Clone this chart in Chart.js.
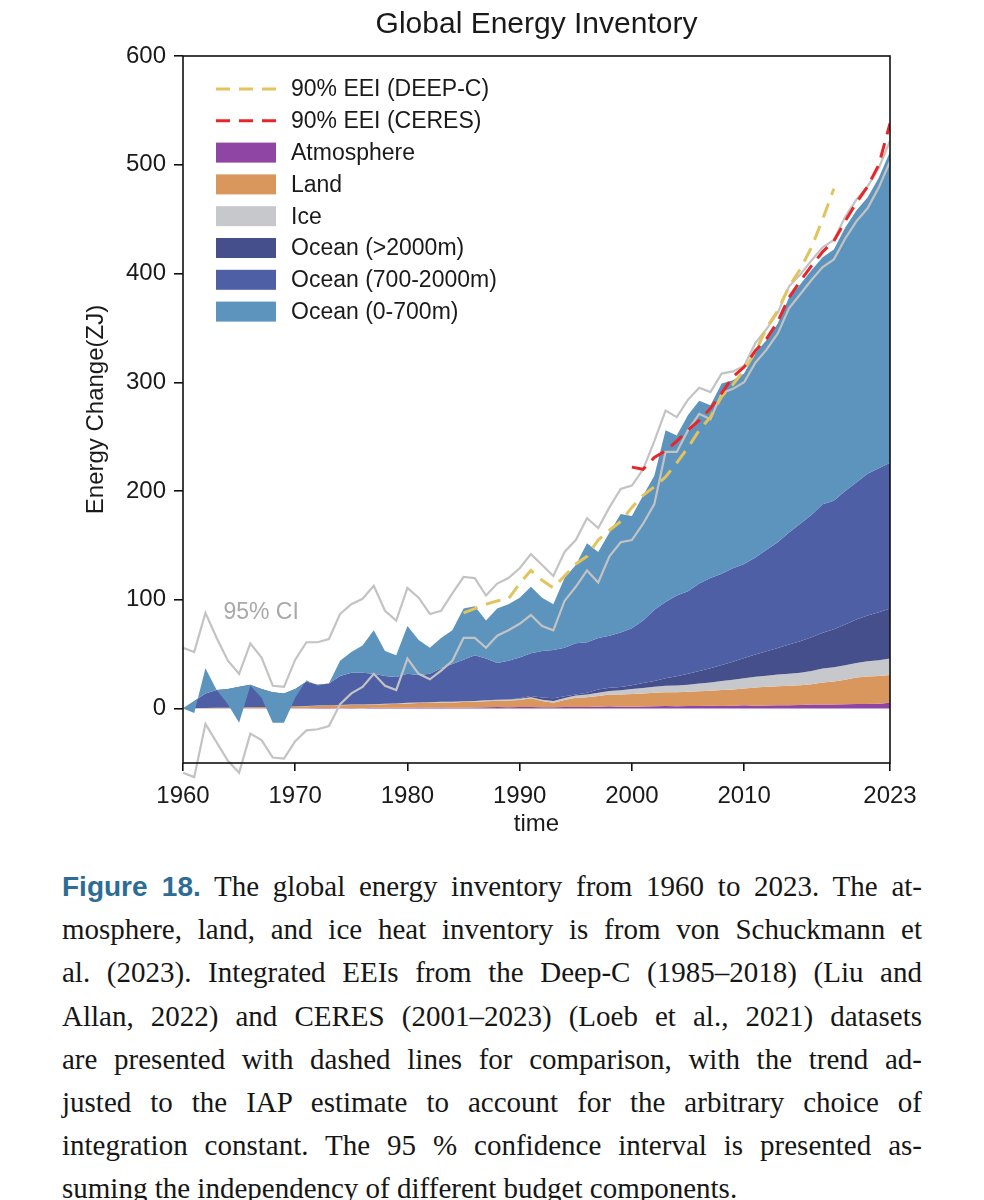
<!DOCTYPE html>
<html>
<head>
<meta charset="utf-8">
<script src="https://cdn.jsdelivr.net/npm/chart.js@4.4.0/dist/chart.umd.min.js"></script>
<style>
  body { margin: 0; background: #fff; }
  #wrap { position: relative; width: 984px; height: 1200px; overflow: hidden; }
  #caption { position: absolute; left: 62px; top: 865px; width: 860px;
    font-family: 'Liberation Serif', 'Times New Roman', serif; font-size: 29px;
    line-height: 43.2px; color: #161616; }
  #caption .ln { white-space: nowrap; text-align: justify; text-align-last: justify; }
  #caption .ln.last { text-align-last: left; }
  #caption b { font-family: 'Liberation Sans', Arial, sans-serif; color: #2c6d96; font-size: 28px; }
</style>
</head>
<body>
<div id="wrap">
  <canvas id="energy" width="984" height="850"></canvas>
  <div id="caption">
    <div class="ln"><b>Figure 18.</b> The global energy inventory from 1960 to 2023. The at-</div>
    <div class="ln">mosphere, land, and ice heat inventory is from von Schuckmann et</div>
    <div class="ln">al. (2023). Integrated EEIs from the Deep-C (1985–2018) (Liu and</div>
    <div class="ln">Allan, 2022) and CERES (2001–2023) (Loeb et al., 2021) datasets</div>
    <div class="ln">are presented with dashed lines for comparison, with the trend ad-</div>
    <div class="ln">justed to the IAP estimate to account for the arbitrary choice of</div>
    <div class="ln">integration constant. The 95 % confidence interval is presented as-</div>
    <div class="ln last">suming the independency of different budget components.</div>
  </div>
</div>
<script>
// years on the x axis
var years = [1960,1961,1962,1963,1964,1965,1966,1967,1968,1969,
  1970,1971,1972,1973,1974,1975,1976,1977,1978,1979,
  1980,1981,1982,1983,1984,1985,1986,1987,1988,1989,
  1990,1991,1992,1993,1994,1995,1996,1997,1998,1999,
  2000,2001,2002,2003,2004,2005,2006,2007,2008,2009,
  2010,2011,2012,2013,2014,2015,2016,2017,2018,2019,
  2020,2021,2022,2023];
var xTicks = [1960, 1970, 1980, 1990, 2000, 2010, 2023];
var yTicks = [0, 100, 200, 300, 400, 500, 600];

// components of the inventory (ZJ), bottom to top
var atmosphere = [0,0.1,0.2,0.2,0.1,0.2,0.3,0.3,0.3,0.4,
  0.4,0.3,0.5,0.6,0.4,0.5,0.4,0.7,0.7,0.8,
  0.9,1.0,0.9,1.1,0.9,0.9,1.0,1.2,1.4,1.2,
  1.4,1.5,1.2,1.2,1.4,1.6,1.5,1.8,2.2,1.8,
  1.8,2.0,2.2,2.3,2.2,2.5,2.5,2.6,2.4,2.7,
  3.0,2.7,2.8,3.0,3.1,3.4,3.8,3.7,3.7,4.1,
  4.3,4.2,4.5,5.5];
var land = [0,0.2,0.4,0.6,0.7,0.8,1.0,1.2,1.3,1.5,
  1.7,1.9,2.1,2.4,2.7,2.9,3.0,3.1,3.4,3.6,
  3.9,4.2,4.4,4.5,4.8,5.1,5.3,5.6,5.9,6.2,
  6.6,8.0,5.8,4.3,6.6,8.4,9.0,9.7,10.8,11.2,
  11.7,12.0,12.3,12.7,12.8,13.0,13.5,13.9,14.6,14.8,
  15.5,16.8,17.2,17.5,17.9,18.1,18.7,20.3,21.3,22.4,
  24.2,25.3,25.5,25.5];
var ice = [0,0,0,0,0,0,0,0,0,0,
  0.1,0.1,0.2,0.2,0.2,0.3,0.3,0.3,0.4,0.4,
  0.5,0.5,0.6,0.6,0.7,0.7,0.8,0.8,0.9,0.9,
  1.0,1.0,1.2,1.5,1.8,2.0,2.5,3.0,3.2,3.8,
  4.5,5.0,5.5,6.0,6.3,6.5,7.0,7.5,8.5,9.0,
  9.5,9.8,10.2,10.8,11.0,11.5,12.0,12.8,13.0,13.3,
  13.5,14.0,14.5,15.0];
var oceanDeep = [0,0,0,0,0,0,0,0,0,0,
  0,0,0,0,0,0,0,0,0,0,
  0,0,0,0,0,0,0,0,0,0,
  0.5,1,2,2.5,1.5,1,1.5,3,3,3,
  3.5,4.5,5.5,7,8.5,10,11.5,13,14.5,16.5,
  18.5,20.5,22.5,24.5,27,29,31,33,35,37.5,
  40,42,44,46];
var oceanMid = [0,6.7,13.4,16.2,17.2,19,20.7,16.5,13.4,12.1,
  15.8,22.7,19.2,19.8,26.7,29.3,29.3,27.9,25.5,24.2,
  26.7,25.3,26.1,30.8,34.6,38.3,41.9,38.4,33.8,35.7,
  37.5,39.5,42.8,44.5,44.7,47,46.5,47.5,47.8,50.2,
  52.5,57.5,65.5,70,74.2,76,80.5,83,84,86,
  86.5,89.2,93.3,97.2,103,108,112.5,118.2,118,122.7,
  126,130.5,132.5,134];
var oceanUpper = [0,-11,23,0,-14,-33,-1,-8,-28,-27,
  -8,1,-1,0,14,19,25,40,23,20,
  44,32,24,28,31,47,45,35,50,52,
  55,61,49,42,64,72,91,79,95,109,
  103,115,123,158,147,162,168,159,175,173,
  175,188,193,201,216,220,225,227,231,242,
  250,254,267,286];

// 95% confidence interval of the total
var ciUpper = [56,52,88,65,44,32,60,47,21,20,
  45,61,61,64,87,96,101,113,90,81,
  111,102,87,90,106,121,120,104,115,120,
  129,142,132,122,144,155,175,166,185,202,
  205,220,246,274,268,284,295,291,308,310,
  315,336,349,364,388,399,412,424,431,452,
  468,480,497,522];
var ciLower = [-59,-63,-14,-31,-48,-59,-23,-29,-45,-46,
  -30,-20,-19,-16,4,14,20,32,21,17,
  46,32,27,35,44,65,65,56,67,72,
  78,86,76,72,99,112,127,116,140,153,
  155,170,188,236,236,256,271,266,290,294,
  300,318,330,345,368,381,394,406,413,432,
  448,460,479,503];

// integrated EEI (dashed), null where no data
var deepC = [null,null,null,null,null,null,null,null,null,null,
  null,null,null,null,null,null,null,null,null,null,
  null,null,null,null,null,88,92,96,99,101,
  115,127,118,111,122,133,140,155,164,172,
  185,196,204,213,226,240,256,268,287,298,
  311,328,350,366,388,404,424,450,478,null,
  null,null,null,null];
var ceres = [null,null,null,null,null,null,null,null,null,null,
  null,null,null,null,null,null,null,null,null,null,
  null,null,null,null,null,null,null,null,null,null,
  null,null,null,null,null,null,null,null,null,null,
  222,220,231,237,246,256,265,276,290,305,
  314,329,340,356,378,393,407,420,430,448,
  465,480,500,538];

var layers = [
  { label: 'Atmosphere', values: atmosphere, color: '#8f45a3' },
  { label: 'Land', values: land, color: '#d9975e' },
  { label: 'Ice', values: ice, color: '#c7c8cc' },
  { label: 'Ocean (>2000m)', values: oceanDeep, color: '#454f8c' },
  { label: 'Ocean (700-2000m)', values: oceanMid, color: '#4f5fa6' },
  { label: 'Ocean (0-700m)', values: oceanUpper, color: '#5c94be' }
];

// running sums so each layer sits on the one below (negative parts overlap, like stackplot)
var running = years.map(function () { return 0; });
var layerSets = layers.map(function (l, k) {
  running = running.map(function (v, i) { return Math.round((v + l.values[i]) * 10) / 10; });
  return {
    label: l.label,
    data: running.slice(),
    backgroundColor: l.color,
    borderColor: 'rgba(0,0,0,0)',
    borderWidth: 0,
    pointRadius: 0,
    fill: k === 0 ? 'origin' : '-1',
    order: 20 - k
  };
});

var lineSets = [
  { label: '90% EEI (DEEP-C)', data: deepC, borderColor: '#e2c35c', backgroundColor: '#e2c35c',
    borderWidth: 3, borderDash: [15, 9], pointRadius: 0, fill: false, order: 2 },
  { label: '90% EEI (CERES)', data: ceres, borderColor: '#e8262a', backgroundColor: '#e8262a',
    borderWidth: 3, borderDash: [15, 9], pointRadius: 0, fill: false, order: 1 }
];
var ciSets = [
  { label: 'ci-up', data: ciUpper, borderColor: '#c3c3c3', borderWidth: 2.2, pointRadius: 0,
    fill: false, order: 5, clip: false },
  { label: 'ci-low', data: ciLower, borderColor: '#c3c3c3', borderWidth: 2.2, pointRadius: 0,
    fill: false, order: 5, clip: false }
];

// legend drawn inside the plot, top left
var insideLegend = {
  id: 'insideLegend',
  afterDraw: function (chart) {
    var ctx = chart.ctx, area = chart.chartArea;
    var items = chart.data.datasets.slice(0, 8);
    var x0 = area.left + 33, w = 60;
    ctx.save();
    ctx.font = "23px 'Liberation Sans', Arial, sans-serif";
    ctx.textBaseline = 'middle';
    items.forEach(function (ds, i) {
      var cy = area.top + 33 + i * 31.8;
      if (ds.borderDash) {
        ctx.strokeStyle = ds.borderColor;
        ctx.lineWidth = 3;
        ctx.setLineDash([14, 9]);
        ctx.beginPath();
        ctx.moveTo(x0, cy);
        ctx.lineTo(x0 + w, cy);
        ctx.stroke();
        ctx.setLineDash([]);
      } else {
        ctx.fillStyle = ds.backgroundColor;
        ctx.fillRect(x0, cy - 10, w, 20);
      }
      ctx.fillStyle = '#1a1a1a';
      ctx.fillText(ds.label, x0 + 75, cy + 1);
    });
    ctx.restore();
  }
};

// box round the plot and the "95% CI" note
var frame = {
  id: 'frame',
  afterDraw: function (chart) {
    var ctx = chart.ctx, a = chart.chartArea;
    var xs = chart.scales.x, ys = chart.scales.y;
    ctx.save();
    ctx.strokeStyle = '#111';
    ctx.lineWidth = 1.6;
    ctx.strokeRect(a.left, a.top, a.right - a.left, a.bottom - a.top);
    ctx.font = "23px 'Liberation Sans', Arial, sans-serif";
    ctx.fillStyle = '#a9a9a9';
    ctx.textBaseline = 'middle';
    ctx.fillText('95% CI', xs.getPixelForValue(1963.6), ys.getPixelForValue(88));
    ctx.restore();
  }
};

Chart.defaults.font.family = "'Liberation Sans', Arial, sans-serif";
Chart.defaults.color = '#1a1a1a';

var chart = new Chart(document.getElementById('energy'), {
  type: 'line',
  data: {
    labels: years,
    datasets: lineSets.concat(layerSets, ciSets)
  },
  options: {
    responsive: false,
    animation: false,
    layout: { padding: { left: 60, right: 94, top: 0, bottom: 0 } },
    elements: { line: { tension: 0 } },
    plugins: {
      legend: { display: false },
      tooltip: { enabled: false },
      title: {
        display: true,
        fullSize: false,
        text: 'Global Energy Inventory',
        font: { size: 30, weight: 'normal' },
        color: '#1a1a1a',
        padding: { top: 7, bottom: 13 }
      }
    },
    scales: {
      x: {
        type: 'linear',
        min: 1960,
        max: 2023,
        afterBuildTicks: function (s) { s.ticks = xTicks.map(function (v) { return { value: v }; }); },
        afterFit: function (s) { s.height = 87; },
        ticks: { font: { size: 24 }, padding: 11, maxRotation: 0, autoSkip: false,
          callback: function (v) { return String(v); } },
        grid: { drawOnChartArea: false, drawTicks: true, tickLength: 8, color: '#111', lineWidth: 1.6 },
        border: { display: false },
        title: { display: true, text: 'time', font: { size: 24 }, padding: { top: 0, bottom: 11 } }
      },
      y: {
        min: -50,
        max: 600,
        afterBuildTicks: function (s) { s.ticks = yTicks.map(function (v) { return { value: v }; }); },
        afterFit: function (s) { s.width = 123; },
        ticks: { font: { size: 24 }, padding: 8 },
        grid: { drawOnChartArea: false, drawTicks: true, tickLength: 9, color: '#111', lineWidth: 1.6 },
        border: { display: false },
        title: { display: true, text: 'Energy Change(ZJ)', font: { size: 24 }, padding: { top: 22, bottom: 0 } }
      }
    }
  },
  plugins: [insideLegend, frame]
});
</script>
</body>
</html>
